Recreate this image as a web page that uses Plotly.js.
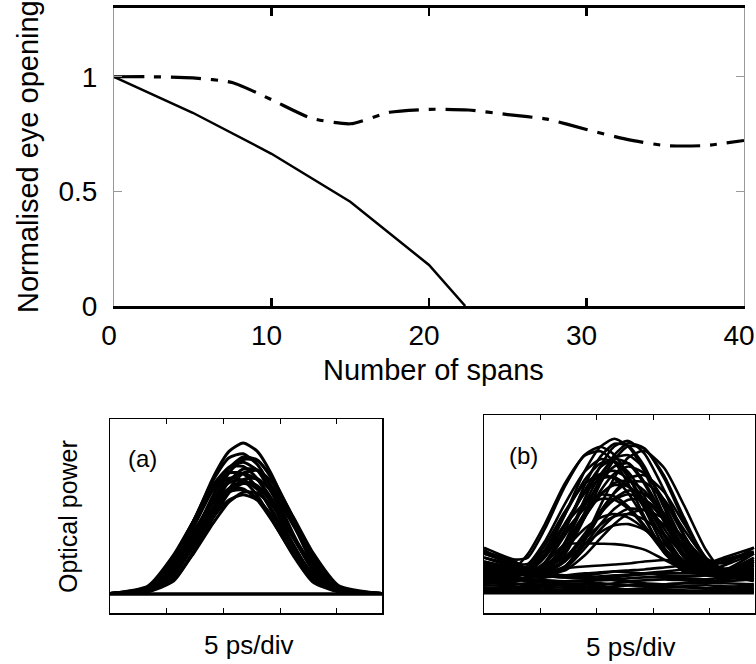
<!DOCTYPE html>
<html><head><meta charset="utf-8">
<script src="https://cdn.plot.ly/plotly-3.0.1.min.js"></script>
<style>html,body{margin:0;padding:0;background:#fff}#chart{width:756px;height:664px}</style>
</head><body><div id="chart"></div>
<script>
// ---- top panel: normalised eye opening vs number of spans ----
const spansSolid   = [0, 5, 10, 15, 20, 22.3];
const openingSolid = [1, 0.843, 0.664, 0.455, 0.179, 0];
const spansDash    = [0, 2.5, 5, 7.5, 10, 12.5, 15, 17.5, 20, 22.5, 25, 27.5, 30, 32.5, 35, 37.5, 40];
const openingDash  = [1.0, 1.0, 0.995, 0.975, 0.90, 0.82, 0.795, 0.845, 0.858, 0.855, 0.835, 0.815, 0.77, 0.728, 0.70, 0.70, 0.722];
const xTickVals = [0, 10, 20, 30, 40];
const yTickVals = [0, 0.5, 1];
const yTickText = ['0', '0.5', '1'];

// ---- eye diagram (a) ----
const eyeTimeA = [0, 0.67, 1.12, 1.47, 1.82, 2.10, 2.35, 2.60, 2.88, 3.23, 3.58, 4.03, 4.8];
const eyeTracesA = [
  [0.1, 0.123, 0.255, 0.465, 0.698, 0.833, 0.876, 0.833, 0.698, 0.465, 0.255, 0.123, 0.1],
  [0.1, 0.126, 0.271, 0.473, 0.684, 0.80, 0.821, 0.765, 0.628, 0.41, 0.223, 0.117, 0.1],
  [0.1, 0.116, 0.214, 0.394, 0.607, 0.746, 0.804, 0.789, 0.681, 0.476, 0.276, 0.127, 0.1],
  [0.1, 0.13, 0.282, 0.472, 0.66, 0.75, 0.756, 0.692, 0.555, 0.357, 0.193, 0.113, 0.1],
  [0.1, 0.112, 0.191, 0.351, 0.545, 0.679, 0.742, 0.736, 0.647, 0.464, 0.278, 0.129, 0.1],
  [0.1, 0.135, 0.29, 0.472, 0.646, 0.722, 0.717, 0.646, 0.511, 0.326, 0.176, 0.111, 0.1],
  [0.1, 0.119, 0.224, 0.391, 0.577, 0.686, 0.72, 0.686, 0.577, 0.391, 0.224, 0.119, 0.1],
  [0.1, 0.11, 0.172, 0.315, 0.491, 0.62, 0.688, 0.692, 0.62, 0.454, 0.281, 0.133, 0.1],
  [0.1, 0.122, 0.246, 0.413, 0.583, 0.672, 0.685, 0.637, 0.521, 0.344, 0.194, 0.113, 0.1],
  [0.1, 0.114, 0.197, 0.344, 0.515, 0.623, 0.667, 0.65, 0.559, 0.394, 0.235, 0.121, 0.1],
  [0.1, 0.128, 0.258, 0.416, 0.57, 0.64, 0.64, 0.583, 0.467, 0.305, 0.172, 0.11, 0.1],
  [0.1, 0.11, 0.174, 0.305, 0.463, 0.572, 0.623, 0.618, 0.546, 0.397, 0.245, 0.124, 0.1],
  [0.1, 0.115, 0.202, 0.34, 0.493, 0.582, 0.61, 0.582, 0.493, 0.34, 0.202, 0.115, 0.1],
  [0.1, 0.139, 0.298, 0.472, 0.634, 0.695, 0.682, 0.605, 0.472, 0.298, 0.16, 0.109, 0.1],
  [0.1, 0.11, 0.164, 0.311, 0.497, 0.639, 0.721, 0.735, 0.67, 0.497, 0.311, 0.142, 0.1],
  [0.1, 0.123, 0.252, 0.44, 0.64, 0.751, 0.777, 0.735, 0.605, 0.401, 0.222, 0.118, 0.1],
  [0.1, 0.115, 0.204, 0.356, 0.53, 0.642, 0.678, 0.656, 0.561, 0.39, 0.23, 0.12, 0.1],
  [0.1, 0.121, 0.234, 0.386, 0.542, 0.624, 0.636, 0.591, 0.486, 0.324, 0.186, 0.112, 0.1],
  [0.1, 0.113, 0.198, 0.37, 0.579, 0.723, 0.791, 0.785, 0.689, 0.492, 0.292, 0.132, 0.1]
];
const eyeZeroTimeA = [0, 4.8];
const eyeZeroA = [0.098, 0.098];

// ---- eye diagram (b) ----
const eyeTimeB = [0, 0.546, 0.776, 1.075, 1.428, 1.781, 2.063, 2.31, 2.557, 2.839, 3.192, 3.545, 3.933, 4.25, 4.78];
const eyeTracesB = [
  [0.30, 0.25, 0.222, 0.297, 0.493, 0.715, 0.84, 0.88, 0.84, 0.715, 0.493, 0.297, 0.22, 0.24, 0.30],
  [0.33, 0.27, 0.28, 0.423, 0.637, 0.798, 0.84, 0.798, 0.694, 0.53, 0.331, 0.225, 0.21, 0.2, 0.18],
  [0.2, 0.21, 0.215, 0.22, 0.294, 0.48, 0.655, 0.776, 0.843, 0.831, 0.693, 0.48, 0.277, 0.25, 0.33],
  [0.17, 0.19, 0.2, 0.218, 0.35, 0.552, 0.70, 0.782, 0.797, 0.73, 0.552, 0.35, 0.212, 0.2, 0.19],
  [0.26, 0.23, 0.231, 0.318, 0.495, 0.672, 0.756, 0.766, 0.712, 0.59, 0.4, 0.257, 0.22, 0.22, 0.24],
  [0.15, 0.16, 0.18, 0.2, 0.234, 0.364, 0.5, 0.61, 0.68, 0.696, 0.61, 0.45, 0.278, 0.204, 0.26],
  [0.22, 0.2, 0.2, 0.23, 0.347, 0.503, 0.602, 0.646, 0.639, 0.569, 0.425, 0.28, 0.2, 0.19, 0.17],
  [0.19, 0.19, 0.2, 0.205, 0.272, 0.4, 0.506, 0.573, 0.6, 0.573, 0.469, 0.331, 0.22, 0.2, 0.22],
  [0.16, 0.17, 0.18, 0.18, 0.221, 0.325, 0.422, 0.489, 0.526, 0.52, 0.443, 0.325, 0.212, 0.19, 0.2],
  [0.21, 0.2, 0.2, 0.235, 0.324, 0.425, 0.482, 0.5, 0.482, 0.425, 0.324, 0.235, 0.2, 0.2, 0.21],
  [0.2, 0.19, 0.2, 0.208, 0.263, 0.347, 0.408, 0.443, 0.449, 0.421, 0.347, 0.263, 0.205, 0.2, 0.19],
  [0.25, 0.22, 0.22, 0.225, 0.31, 0.506, 0.681, 0.799, 0.857, 0.832, 0.68, 0.463, 0.268, 0.225, 0.25],
  [0.3, 0.25, 0.248, 0.36, 0.549, 0.714, 0.777, 0.763, 0.686, 0.549, 0.36, 0.237, 0.22, 0.2, 0.17],
  [0.24, 0.22, 0.234, 0.34, 0.51, 0.653, 0.7, 0.679, 0.604, 0.477, 0.31, 0.208, 0.2, 0.19, 0.2],
  [0.2, 0.2, 0.21, 0.22, 0.26, 0.391, 0.515, 0.606, 0.661, 0.661, 0.571, 0.421, 0.273, 0.22, 0.3],
  [0.28, 0.23, 0.213, 0.284, 0.41, 0.526, 0.576, 0.572, 0.526, 0.436, 0.306, 0.217, 0.2, 0.21, 0.23],
  [0.22, 0.2, 0.21, 0.223, 0.355, 0.575, 0.743, 0.842, 0.869, 0.806, 0.619, 0.395, 0.23, 0.21, 0.24],
  [0.32, 0.232, 0.298, 0.447, 0.652, 0.794, 0.817, 0.762, 0.652, 0.488, 0.304, 0.222, 0.21, 0.19, 0.16],
  [0.18, 0.19, 0.2, 0.244, 0.416, 0.644, 0.79, 0.855, 0.844, 0.742, 0.53, 0.318, 0.202, 0.2, 0.22],
  [0.19, 0.2, 0.21, 0.247, 0.39, 0.54, 0.662, 0.74, 0.756, 0.662, 0.485, 0.295, 0.214, 0.21, 0.28],
  [0.26, 0.22, 0.22, 0.296, 0.45, 0.604, 0.678, 0.686, 0.639, 0.533, 0.367, 0.242, 0.21, 0.2, 0.19],
  [0.2, 0.2, 0.2, 0.201, 0.259, 0.388, 0.502, 0.579, 0.618, 0.602, 0.502, 0.359, 0.232, 0.2, 0.18],
  [0.17, 0.18, 0.2, 0.2, 0.214, 0.29, 0.377, 0.45, 0.502, 0.52, 0.475, 0.377, 0.261, 0.205, 0.2],
  [0.25, 0.23, 0.237, 0.315, 0.443, 0.556, 0.598, 0.589, 0.537, 0.443, 0.315, 0.231, 0.22, 0.21, 0.22],
  [0.24, 0.21, 0.2, 0.256, 0.419, 0.618, 0.737, 0.779, 0.755, 0.652, 0.459, 0.281, 0.2, 0.19, 0.2],
  [0.22, 0.21, 0.22, 0.224, 0.313, 0.48, 0.618, 0.705, 0.74, 0.705, 0.57, 0.39, 0.246, 0.22, 0.26],
  [0.21, 0.21, 0.22, 0.234, 0.333, 0.484, 0.595, 0.657, 0.668, 0.617, 0.484, 0.333, 0.229, 0.22, 0.2],
  [0.19, 0.2, 0.2, 0.2, 0.234, 0.344, 0.449, 0.526, 0.572, 0.572, 0.496, 0.37, 0.244, 0.2, 0.22],
  [0.23, 0.21, 0.206, 0.281, 0.442, 0.613, 0.701, 0.718, 0.676, 0.567, 0.388, 0.244, 0.2, 0.2, 0.21],
  [0.2, 0.2, 0.2, 0.2, 0.228, 0.374, 0.543, 0.684, 0.786, 0.819, 0.732, 0.543, 0.318, 0.209, 0.27],
  [0.2, 0.21, 0.22, 0.226, 0.282, 0.375, 0.446, 0.488, 0.5, 0.473, 0.394, 0.298, 0.228, 0.22, 0.21],
  [0.17, 0.17, 0.18, 0.25, 0.345, 0.352, 0.35, 0.348, 0.34, 0.32, 0.27, 0.22, 0.19, 0.18, 0.17],
  [0.15, 0.16, 0.17, 0.2, 0.225, 0.235, 0.24, 0.245, 0.25, 0.26, 0.268, 0.26, 0.25, 0.28, 0.33],
  [0.10, 0.10, 0.10, 0.10, 0.10, 0.10, 0.10, 0.10, 0.10, 0.10, 0.10, 0.10, 0.10, 0.10, 0.10],
  [0.105, 0.105, 0.105, 0.105, 0.105, 0.105, 0.105, 0.105, 0.105, 0.105, 0.105, 0.105, 0.105, 0.105, 0.105],
  [0.11, 0.11, 0.115, 0.11, 0.11, 0.115, 0.11, 0.105, 0.11, 0.115, 0.11, 0.11, 0.115, 0.11, 0.11],
  [0.12, 0.115, 0.11, 0.115, 0.12, 0.12, 0.115, 0.11, 0.115, 0.12, 0.12, 0.115, 0.11, 0.115, 0.12],
  [0.125, 0.13, 0.14, 0.145, 0.14, 0.13, 0.125, 0.13, 0.14, 0.145, 0.14, 0.13, 0.125, 0.13, 0.14],
  [0.13, 0.12, 0.12, 0.125, 0.13, 0.13, 0.125, 0.12, 0.12, 0.125, 0.13, 0.13, 0.125, 0.12, 0.12],
  [0.14, 0.135, 0.13, 0.135, 0.14, 0.135, 0.13, 0.135, 0.14, 0.135, 0.13, 0.135, 0.14, 0.135, 0.13],
  [0.15, 0.145, 0.15, 0.155, 0.15, 0.145, 0.14, 0.15, 0.155, 0.15, 0.145, 0.15, 0.155, 0.15, 0.145],
  [0.16, 0.15, 0.14, 0.14, 0.145, 0.15, 0.15, 0.145, 0.14, 0.14, 0.145, 0.15, 0.15, 0.16, 0.17],
  [0.18, 0.17, 0.16, 0.155, 0.16, 0.165, 0.17, 0.165, 0.16, 0.165, 0.17, 0.165, 0.16, 0.17, 0.19],
  [0.2, 0.18, 0.17, 0.165, 0.16, 0.16, 0.165, 0.17, 0.175, 0.18, 0.18, 0.175, 0.17, 0.18, 0.2],
  [0.22, 0.2, 0.185, 0.18, 0.19, 0.2, 0.205, 0.21, 0.205, 0.2, 0.19, 0.185, 0.19, 0.2, 0.22],
  [0.25, 0.21, 0.19, 0.185, 0.18, 0.18, 0.185, 0.19, 0.19, 0.195, 0.2, 0.2, 0.2, 0.21, 0.24],
  [0.28, 0.24, 0.21, 0.19, 0.18, 0.175, 0.175, 0.18, 0.19, 0.2, 0.21, 0.22, 0.23, 0.26, 0.3],
  [0.31, 0.26, 0.22, 0.2, 0.19, 0.19, 0.2, 0.21, 0.215, 0.22, 0.23, 0.24, 0.25, 0.27, 0.31]
];
const eyeTicks = [1, 2, 3, 4];

const FONT = 'Liberation Sans, Arial, sans-serif';
const data = [];
data.push({x: spansSolid, y: openingSolid, xaxis: 'x', yaxis: 'y', mode: 'lines',
  line: {color: '#000', width: 2.5}, hoverinfo: 'skip'});
data.push({x: spansDash, y: openingDash, xaxis: 'x', yaxis: 'y', mode: 'lines',
  line: {color: '#000', width: 3.2, dash: '30px,10px,7px,10px', shape: 'spline', smoothing: 0.6}, hoverinfo: 'skip'});
eyeTracesA.forEach(v => data.push({x: eyeTimeA, y: v, xaxis: 'x2', yaxis: 'y2', mode: 'lines',
  line: {color: '#000', width: 3, shape: 'spline', smoothing: 0.6}, hoverinfo: 'skip'}));
data.push({x: eyeZeroTimeA, y: eyeZeroA, xaxis: 'x2', yaxis: 'y2', mode: 'lines',
  line: {color: '#000', width: 3.5}, hoverinfo: 'skip'});
eyeTracesB.forEach(v => data.push({x: eyeTimeB, y: v, xaxis: 'x3', yaxis: 'y3', mode: 'lines',
  line: {color: '#000', width: 2.6, shape: 'spline', smoothing: 0.6}, hoverinfo: 'skip'}));

const eyeX = (dom, anchor) => ({domain: dom, anchor: anchor, range: [0, 4.8], showgrid: false, zeroline: false,
  showline: true, linecolor: '#000', linewidth: 1.5, mirror: 'ticks', ticks: 'inside', ticklen: 5, tickwidth: 1,
  tickcolor: '#000', tickvals: eyeTicks, showticklabels: false, fixedrange: true});
const eyeY = (dom, anchor) => ({domain: dom, anchor: anchor, range: [0, 1], showgrid: false, zeroline: false,
  showline: true, linecolor: '#000', linewidth: 1.5, mirror: true, ticks: '', showticklabels: false, fixedrange: true});

const W = 756, H = 664;
const px = v => v / W, py = v => 1 - v / H;

const layout = {
  width: W, height: H, margin: {l: 0, r: 0, t: 0, b: 0}, showlegend: false,
  paper_bgcolor: '#fff', plot_bgcolor: '#fff',
  font: {family: FONT, color: '#000'},
  xaxis: {domain: [px(114), px(744)], anchor: 'y', range: [0, 40], tickvals: xTickVals,
    showgrid: false, zeroline: false, showline: true, linecolor: '#000', linewidth: 3, mirror: 'ticks',
    ticks: 'inside', ticklen: 8, tickwidth: 2.5, tickcolor: '#000',
    tickfont: {family: FONT, size: 28, color: '#000'}, ticklabelstandoff: 2,
    ticklabeloverflow: 'allow', ticklabelshift: -5},
  yaxis: {domain: [py(306), py(8)], anchor: 'x', range: [0, 1.3], tickvals: yTickVals, ticktext: yTickText,
    showgrid: false, zeroline: false, showline: true, linecolor: '#999', linewidth: 1, mirror: 'ticks',
    ticks: 'inside', ticklen: 8, tickwidth: 1, tickcolor: '#999',
    tickfont: {family: FONT, size: 28, color: '#000'}, ticklabelstandoff: 10},
  xaxis2: eyeX([px(110), px(382)], 'y2'),
  yaxis2: eyeY([py(613), py(419)], 'x2'),
  xaxis3: eyeX([px(484), px(755)], 'y3'),
  yaxis3: eyeY([py(613), py(415)], 'x3'),
  annotations: [
    {text: 'Normalised eye opening', xref: 'paper', yref: 'paper', x: px(28), y: py(157), textangle: -90,
      showarrow: false, xanchor: 'center', yanchor: 'middle', font: {family: FONT, size: 29, color: '#000'}},
    {text: 'Number of spans', xref: 'paper', yref: 'paper', x: px(433), y: py(370),
      showarrow: false, xanchor: 'center', yanchor: 'middle', font: {family: FONT, size: 29, color: '#000'}},
    {text: 'Optical power', xref: 'paper', yref: 'paper', x: px(68), y: py(517), textangle: -90,
      showarrow: false, xanchor: 'center', yanchor: 'middle', font: {family: FONT, size: 25, color: '#000'}},
    {text: '5 ps/div', xref: 'paper', yref: 'paper', x: px(249), y: py(645),
      showarrow: false, xanchor: 'center', yanchor: 'middle', font: {family: FONT, size: 26, color: '#000'}},
    {text: '5 ps/div', xref: 'paper', yref: 'paper', x: px(631), y: py(647),
      showarrow: false, xanchor: 'center', yanchor: 'middle', font: {family: FONT, size: 26, color: '#000'}},
    {text: '(a)', xref: 'paper', yref: 'paper', x: px(142), y: py(458),
      showarrow: false, xanchor: 'center', yanchor: 'middle', font: {family: FONT, size: 24, color: '#000'}},
    {text: '(b)', xref: 'paper', yref: 'paper', x: px(523), y: py(455),
      showarrow: false, xanchor: 'center', yanchor: 'middle', font: {family: FONT, size: 24, color: '#000'}}
  ]
};

Plotly.newPlot('chart', data, layout, {staticPlot: true, displayModeBar: false});
</script>
</body></html>
